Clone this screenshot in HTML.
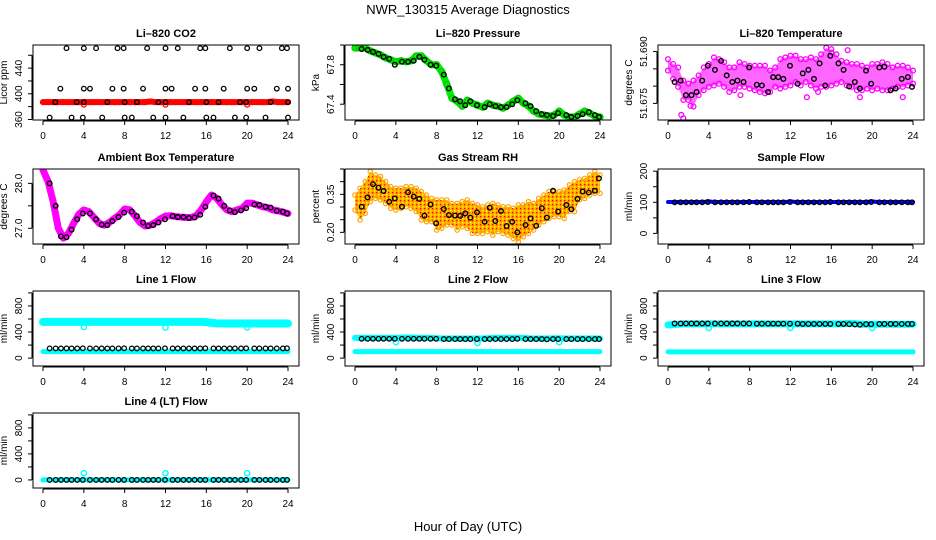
<!DOCTYPE html>
<html><head><meta charset="utf-8"><style>
html,body{margin:0;padding:0;background:#fff;}
svg{display:block;font-family:"Liberation Sans",Arial,sans-serif;}
</style></head><body>
<svg id="chart" width="936" height="540" viewBox="0 0 936 540" xmlns="http://www.w3.org/2000/svg">
<defs>
<pattern id="rhPat" width="4" height="4" patternUnits="userSpaceOnUse">
<rect width="4" height="4" fill="#ffa500"/><rect x="0" y="0" width="1.3" height="1.3" fill="#ff0000"/><rect x="2" y="2" width="1.5" height="1.5" fill="#ffff00"/><rect x="2" y="0" width="1" height="1" fill="#ffd000"/>
</pattern>
</defs>
<text x="468" y="14" text-anchor="middle" font-size="13">NWR_130315  Average Diagnostics</text>
<text x="468" y="531" text-anchor="middle" font-size="13">Hour of Day (UTC)</text>
</svg>
<script>
// ---------- data ----------
const gridHours = [0,0.5,1,1.5,2,2.5,3,3.5,4,4.5,5,5.5,6,6.5,7,7.5,8,8.5,9,9.5,10,10.5,11,11.5,12,12.5,13,13.5,14,14.5,15,15.5,16,16.5,17,17.5,18,18.5,19,19.5,20,20.5,21,21.5,22,22.5,23,23.5,24];
const avgHours = [0.65,1.24,1.76,2.3,2.8,3.35,3.9,4.6,5.2,5.75,6.3,6.8,7.4,7.95,8.7,9.2,9.8,10.3,10.8,11.3,11.95,12.7,13.2,13.75,14.3,14.85,15.4,15.9,16.7,17.2,17.75,18.3,18.8,19.4,19.9,20.7,21.2,21.8,22.3,22.9,23.5,23.9];
const xTicks = [0,4,8,12,16,20,24];
const spikeHours = [4,12,20];

// CO2
const co2Red = [387,387,387,387,387,387,387,387,387,387,387,387,387,387,387,387,387,387,387,387,387,388,387,387,387,387,387,387,387,387,387,387,387,387,387,387,387,387,387,387,387,387,387,387,387,388,387,387,387];
const co2Dips = [383,383,383];
const co2Hours = [2.3,4.0,5.2,7.3,7.9,10.2,12.0,13.2,15.4,15.9,18.3,20.0,21.2,23.4,23.9, 1.7,4.0,4.6,6.8,7.9,9.8,12.0,12.6,14.9,15.9,17.7,20.0,20.7,22.9,24.0, 1.2,3.3,4.0,6.3,8.0,9.2,11.3,12.0,14.3,16.0,17.2,19.3,19.9,22.3,24.0, 0.65,2.8,3.9,5.8,8.0,8.7,10.8,12.0,13.75,16.0,16.7,18.8,19.9,21.8,24.0];
const co2Vals = [471,471,471,471,471,471,471,471,471,471,471,471,471,471,471, 408,408,408,408,408,408,408,408,408,408,408,408,408,408,408, 387,387,387,387,387,387,387,387,387,387,387,387,387,387,387, 363,363,363,363,363,363,363,363,363,363,363,363,363,363,363];

// Pressure
const presGreen = [67.97,67.97,67.97,67.94,67.92,67.90,67.87,67.85,67.83,67.84,67.83,67.84,67.89,67.89,67.84,67.80,67.80,67.73,67.60,67.46,67.43,67.38,67.44,67.41,67.39,67.37,67.41,67.39,67.38,67.36,67.39,67.43,67.46,67.41,67.38,67.33,67.30,67.29,67.28,67.29,67.33,67.29,67.27,67.27,67.30,67.33,67.31,67.28,67.27];
const presAvg = [67.96,67.95,67.93,67.91,67.88,67.86,67.80,67.83,67.83,67.84,67.88,67.85,67.80,67.79,67.70,67.56,67.45,67.43,67.39,67.43,67.39,67.37,67.40,67.38,67.37,67.37,67.40,67.44,67.41,67.38,67.33,67.30,67.29,67.28,67.31,67.29,67.27,67.28,67.30,67.32,67.29,67.27];

// Li-820 Temperature
const tempHi = [51.6878,51.6864,51.6854,51.6816,51.6807,51.6816,51.6831,51.6854,51.6864,51.6883,51.6878,51.6869,51.6854,51.6854,51.6869,51.6864,51.6859,51.6859,51.6859,51.6859,51.6845,51.6854,51.6878,51.6883,51.6888,51.6888,51.6878,51.6878,51.6883,51.6878,51.6892,51.6911,51.6897,51.6892,51.6873,51.6869,51.6864,51.6864,51.6859,51.6854,51.6864,51.6864,51.6869,51.6864,51.6854,51.6859,51.6859,51.6854,51.6845];
const tempLo = [51.6845,51.6821,51.6798,51.6760,51.6760,51.6741,51.6774,51.6788,51.6798,51.6802,51.6807,51.6798,51.6783,51.6788,51.6798,51.6798,51.6793,51.6788,51.6783,51.6779,51.6783,51.6798,51.6793,51.6798,51.6802,51.6812,51.6802,51.6812,51.6802,51.6793,51.6798,51.6798,51.6802,51.6807,51.6812,51.6802,51.6798,51.6788,51.6788,51.6793,51.6788,51.6793,51.6788,51.6788,51.6793,51.6798,51.6798,51.6802,51.6807];
const tempOutHours = [1.3,1.5,2.2,7.1,13.6,14.7,16.0,17.6,18.8,23.0];
const tempOutVals = [51.6717,51.6707,51.6743,51.6774,51.6768,51.6783,51.6907,51.6904,51.6768,51.6768];
const tempAvg = [51.6812,51.6816,51.6774,51.6774,51.6783,51.6816,51.6859,51.6847,51.6873,51.6831,51.6812,51.6816,51.6812,51.6854,51.6804,51.6802,51.6783,51.6826,51.6826,51.6821,51.6859,51.6807,51.6837,51.6847,51.6821,51.6866,51.6802,51.6888,51.6866,51.6847,51.6799,51.6812,51.6793,51.6845,51.6807,51.6854,51.6856,51.6788,51.6793,51.6821,51.6826,51.6798];

// Ambient box temperature
const ambMag = [28.30,28.04,27.59,27.00,26.78,26.89,27.11,27.31,27.41,27.37,27.24,27.11,27.07,27.13,27.22,27.30,27.43,27.41,27.28,27.13,27.05,27.07,27.13,27.21,27.27,27.28,27.26,27.25,27.24,27.24,27.28,27.41,27.59,27.74,27.67,27.53,27.41,27.37,27.41,27.44,27.56,27.56,27.52,27.48,27.46,27.41,27.39,27.36,27.33];
const ambAvg = [28.0,27.5,26.82,26.8,26.97,27.2,27.33,27.33,27.2,27.08,27.07,27.16,27.25,27.35,27.37,27.27,27.13,27.05,27.07,27.13,27.2,27.27,27.25,27.25,27.23,27.24,27.3,27.48,27.73,27.66,27.5,27.4,27.36,27.4,27.45,27.53,27.52,27.48,27.46,27.39,27.37,27.33];

// Gas stream RH
const rhHi = [.347,.374,.400,.440,.426,.420,.400,.380,.374,.374,.380,.380,.374,.361,.347,.334,.328,.328,.328,.314,.314,.321,.328,.314,.308,.301,.308,.314,.308,.301,.301,.295,.308,.308,.321,.314,.334,.347,.361,.361,.361,.367,.387,.400,.407,.413,.426,.440,.426];
const rhLo = [.288,.249,.275,.321,.334,.328,.314,.295,.288,.295,.301,.295,.282,.249,.242,.242,.209,.216,.229,.229,.209,.222,.216,.196,.196,.196,.203,.189,.203,.196,.189,.176,.163,.183,.196,.209,.229,.242,.255,.262,.262,.255,.282,.282,.328,.334,.347,.354,.354];
const rhAvg = [.301,.338,.390,.376,.363,.321,.334,.301,.358,.341,.332,.266,.310,.236,.292,.268,.266,.265,.275,.258,.279,.242,.297,.245,.284,.225,.242,.200,.229,.255,.226,.295,.258,.364,.282,.308,.291,.332,.361,.357,.364,.413];

// Sample flow
const sampBlue = [101,101,101,101,101,101,101,101,103,101,101,101,101,101,101,101,101,101,101,101,101,101,101,101,103,101,101,101,101,101,101,101,101,101,101,101,101,101,101,101,103,101,101,101,101,101,101,101,101];
const sampAvg = [100,100,100,100,100,100,101,100,100,100,100,100,100,101,100,100,100,100,100,100,101,100,100,100,100,100,100,101,100,100,100,100,100,100,101,100,100,100,100,100,100,100];

// Line flows
const l1High = [555,555,555,555,555,555,555,555,555,555,558,555,555,555,555,555,555,555,555,555,555,555,555,555,555,555,555,555,555,555,555,555,552,540,532,530,530,530,530,530,530,530,530,530,530,530,530,530,530];
const l1Low = [99,99,99,99,99,99,99,99,99,99,99,99,99,99,99,99,99,99,99,99,99,99,99,99,99,99,99,99,99,99,99,99,99,99,99,99,99,99,99,99,99,99,99,99,99,99,99,99,99];
const l1Dips = [477,470,470];
const l1Avg = [148,148,148,148,148,148,150,148,148,148,148,148,148,150,148,148,148,148,148,148,150,148,148,148,148,148,148,150,148,148,148,148,148,148,150,148,148,148,148,148,148,150];

const l2High = [311,311,311,311,311,311,311,311,311,315,318,315,311,311,311,311,305,300,300,300,300,300,300,300,300,300,305,311,311,311,311,311,311,311,305,300,300,300,300,305,305,300,300,300,300,300,300,300,300];
const l2Low = [99,99,99,99,99,99,99,99,99,99,99,99,99,99,99,99,99,99,99,99,99,99,99,99,99,99,99,99,99,99,99,99,99,99,99,99,99,99,99,99,99,99,99,99,99,99,99,99,99];
const l2Dips = [244,230,244];
const l2Avg = [296,296,296,296,296,296,296,296,296,296,296,296,296,296,292,292,292,292,292,292,292,292,292,292,292,292,292,296,292,292,292,292,288,292,292,292,292,292,292,292,292,292];

const l3High = [510,515,520,525,525,525,525,525,525,525,525,525,525,525,525,525,525,525,525,525,525,525,525,525,525,525,525,525,525,525,525,525,525,525,525,530,530,525,520,520,520,520,520,520,520,520,520,520,520];
const l3Low = [95,95,95,95,95,95,95,95,95,95,95,95,95,95,95,95,95,95,95,95,95,95,95,95,95,95,95,95,95,95,95,95,95,95,95,95,95,95,95,95,95,95,95,95,95,95,95,95,95];
const l3Dips = [463,463,463];
const l3Avg = [531,531,531,531,531,531,531,531,531,531,531,531,531,531,528,528,528,528,528,528,528,528,524,524,524,524,524,524,524,524,520,516,512,520,520,524,524,524,524,524,524,524];

const l4Cyan = [0,0,0,0,0,0,0,0,0,0,0,0,0,0,0,0,0,0,0,0,0,0,0,0,0,0,0,0,0,0,0,0,0,0,0,0,0,0,0,0,0,0,0,0,0,0,0,0,0];
const l4Bumps = [104,104,104];
const l4Avg = [0,0,0,0,0,0,0,0,0,0,0,0,0,0,0,0,0,0,0,0,0,0,0,0,0,0,0,0,0,0,0,0,0,0,0,0,0,0,0,0,0,0];

// ---------- rendering ----------
const NS = "http://www.w3.org/2000/svg";
const svg = document.getElementById("chart");
function mk(tag, attrs, parent){
  const e = document.createElementNS(NS, tag);
  for (const k in attrs) e.setAttribute(k, attrs[k]);
  (parent||svg).appendChild(e);
  return e;
}
const colLeft = [33, 345, 658];
const rowTop = [45, 169, 291, 413];
const BW = 266, BH = 75;

function makePanel(col,row,name,title,ytitle,ymin,ymax,yticks,ylabels){
  const L = colLeft[col], T = rowTop[row];
  const g = mk("g", {});
  
  
  const p = {g, L, T,
    x: h => L + 10 + h * 245 / 24,
    y: v => T + BH - (v - ymin) / (ymax - ymin) * BH};
  const clip = mk("clipPath", {id: "clip-" + name}, g);
  mk("rect", {x: L, y: T, width: BW, height: BH}, clip);
  p.plot = mk("g", {"clip-path": "url(#clip-" + name + ")"}, g);
  
  
  const box = mk("rect", {x: L, y: T, width: BW, height: BH, fill: "none", stroke: "#000", "stroke-width": 1}, g);
  
  
  const tt = mk("text", {x: L + BW/2, y: T - 8, "text-anchor": "middle", "font-size": 11, "font-weight": "bold"}, g);
  tt.textContent = title;
  
  
  const xa = mk("g", {}, g);
  
  
  mk("line", {x1: p.x(xTicks[0]), x2: p.x(xTicks[xTicks.length-1]), y1: T+BH+1, y2: T+BH+1, stroke: "#000"}, xa);
  xTicks.forEach(t => {
    mk("line", {x1: p.x(t), x2: p.x(t), y1: T+BH+1, y2: T+BH+5, stroke: "#000"}, xa);
    const lb = mk("text", {x: p.x(t), y: T+BH+19, "text-anchor": "middle", "font-size": 10}, xa);
    lb.textContent = t;
    
    
  });
  const ya = mk("g", {}, g);
  
  
  const vis = yticks.filter(v => p.y(v) >= T - 0.5 && p.y(v) <= T + BH + 0.5);
  mk("line", {x1: L-1, x2: L-1, y1: p.y(vis[0]), y2: p.y(vis[vis.length-1]), stroke: "#000"}, ya);
  vis.forEach(v => mk("line", {x1: L-5, x2: L-1, y1: p.y(v), y2: p.y(v), stroke: "#000"}, ya));
  ylabels.forEach(lbl => {
    const yy = p.y(parseFloat(lbl));
    const t = mk("text", {x: L-11, y: yy, "text-anchor": "middle", "font-size": 10, transform: "rotate(-90 " + (L-11) + " " + yy + ")"}, ya);
    t.textContent = lbl;
    
    
  });
  const yt = mk("text", {x: L-26, y: T+BH/2, "text-anchor": "middle", "font-size": 10, transform: "rotate(-90 " + (L-26) + " " + (T+BH/2) + ")"}, g);
  yt.textContent = ytitle;
  
  
  return p;
}
function band(p, hours, vals, color, w, sname){
  const pts = hours.map((h,i) => p.x(h) + "," + p.y(vals[i])).join(" ");
  const pl = mk("polyline", {points: pts, fill: "none", stroke: color, "stroke-width": w, "stroke-linejoin": "round", "stroke-linecap": "round"}, p.plot);
  
  
}
function points(p, hours, vals, color, r, sw, sname){
  const g = mk("g", {}, p.plot);
  
  
  hours.forEach((h,i) => {
    const c = mk("circle", {cx: p.x(h), cy: p.y(vals[i]), r: r, fill: "none", stroke: color, "stroke-width": sw}, g);
    
    
  });
}
function envelope(p, hours, hi, lo, fill, opacity, sname){
  const up = hours.map((h,i) => p.x(h) + "," + p.y(hi[i]));
  const dn = hours.map((h,i) => p.x(h) + "," + p.y(lo[i])).reverse();
  const pg = mk("polygon", {points: up.concat(dn).join(" "), fill: fill, "fill-opacity": opacity, stroke: "none"}, p.plot);
  
  
}
const flowTicks = [0,200,400,600,800,1000];
const flowLabels = ["0","400","800"];

let p = makePanel(0,0,"co2","Li\u2013820 CO2","Licor ppm",359.2,476,[360,380,400,420,440,460],["360","400","440"]);
band(p, gridHours, co2Red, "#ff0000", 6, "co2-raw-series");
points(p, gridHours, co2Red, "#ff0000", 2.4, 1.3, "co2-raw-points");
points(p, spikeHours, co2Dips, "#ff0000", 2.4, 1.3, "co2-raw-dips");
points(p, co2Hours, co2Vals, "#000", 2.3, 1.3, "co2-average-series");

p = makePanel(1,0,"pressure","Li\u2013820 Pressure","kPa",67.24,68.0,[67.4,67.6,67.8,68.0],["67.4","67.8"]);
band(p, gridHours, presGreen, "#00ee00", 7, "pressure-raw-series");
points(p, gridHours, presGreen, "#00cc00", 3, 1.3, "pressure-raw-points");
points(p, avgHours, presAvg, "#000", 2.3, 1.4, "pressure-average-series");

p = makePanel(2,0,"li820-temp","Li\u2013820 Temperature","degrees C",51.6702,51.6919,[51.670,51.675,51.680,51.685,51.690],["51.675","51.690"]);
envelope(p, gridHours, tempHi, tempLo, "#ff00ff", 0.6, "li820-temp-raw-cloud");
points(p, gridHours, tempHi, "#ff00ff", 2.4, 1.3, "li820-temp-raw-high");
points(p, gridHours, tempLo, "#ff00ff", 2.4, 1.3, "li820-temp-raw-low");
points(p, tempOutHours, tempOutVals, "#ff00ff", 2.4, 1.3, "li820-temp-raw-outliers");
points(p, avgHours, tempAvg, "#000", 2.3, 1.4, "li820-temp-average-series");

p = makePanel(0,1,"ambient-temp","Ambient Box Temperature","degrees C",26.65,28.32,[27.0,27.5,28.0],["27.0","28.0"]);
band(p, gridHours, ambMag, "#ff00ff", 7, "ambient-raw-series");
points(p, avgHours, ambAvg, "#000", 2.3, 1.4, "ambient-average-series");

p = makePanel(1,1,"rh","Gas Stream RH","percent",0.154,0.45,[0.20,0.25,0.30,0.35,0.40,0.45],["0.20","0.35"]);
envelope(p, gridHours, rhHi, rhLo, "url(#rhPat)", 1, "rh-raw-cloud");
points(p, gridHours, rhHi, "#ffa500", 2.2, 1.2, "rh-raw-high");
points(p, gridHours, rhLo, "#ffa500", 2.2, 1.2, "rh-raw-low");
points(p, avgHours, rhAvg, "#000", 2.3, 1.4, "rh-average-series");

p = makePanel(2,1,"sample-flow","Sample Flow","ml/min",-34,207,[0,50,100,150,200],["0","100","200"]);
band(p, gridHours, sampBlue, "#0000ff", 4, "sample-flow-raw-series");
points(p, avgHours, sampAvg, "#000", 2.3, 1.3, "sample-flow-average-series");

p = makePanel(0,2,"line1-flow","Line 1 Flow","ml/min",-121,1029,flowTicks,flowLabels);
band(p, gridHours, l1High, "#00ffff", 8, "line1-high-series");
band(p, gridHours, l1Low, "#00ffff", 5, "line1-low-series");
points(p, spikeHours, l1Dips, "#00ffff", 2.6, 1.4, "line1-dips");
points(p, avgHours, l1Avg, "#000", 2.3, 1.3, "line1-average-series");

p = makePanel(1,2,"line2-flow","Line 2 Flow","ml/min",-121,1029,flowTicks,flowLabels);
band(p, gridHours, l2High, "#00ffff", 6, "line2-high-series");
band(p, gridHours, l2Low, "#00ffff", 5, "line2-low-series");
points(p, spikeHours, l2Dips, "#00ffff", 2.6, 1.4, "line2-dips");
points(p, avgHours, l2Avg, "#000", 2.3, 1.3, "line2-average-series");

p = makePanel(2,2,"line3-flow","Line 3 Flow","ml/min",-121,1029,flowTicks,flowLabels);
band(p, gridHours, l3High, "#00ffff", 7, "line3-high-series");
band(p, gridHours, l3Low, "#00ffff", 5, "line3-low-series");
points(p, spikeHours, l3Dips, "#00ffff", 2.6, 1.4, "line3-dips");
points(p, avgHours, l3Avg, "#000", 2.3, 1.3, "line3-average-series");

p = makePanel(0,3,"line4-flow","Line 4 (LT) Flow","ml/min",-124,1029,flowTicks,flowLabels);
band(p, gridHours, l4Cyan, "#00ffff", 5, "line4-raw-series");
points(p, spikeHours, l4Bumps, "#00ffff", 2.6, 1.4, "line4-bumps");
points(p, avgHours, l4Avg, "#000", 2.3, 1.3, "line4-average-series");
</script>
</body></html>
